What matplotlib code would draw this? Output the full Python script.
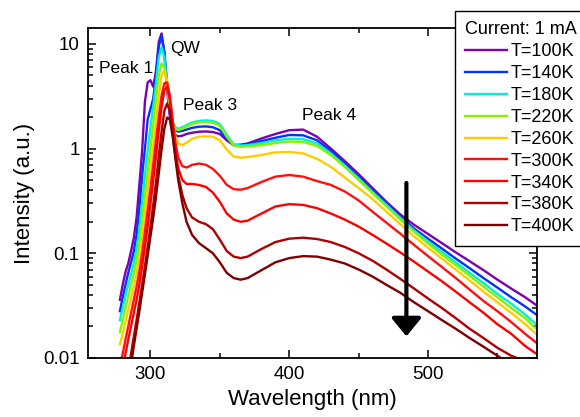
import matplotlib
matplotlib.use("Agg")
import matplotlib.pyplot as plt
from matplotlib.ticker import FixedLocator, LogLocator, NullFormatter

plt.rcParams['font.family'] = ['Liberation Sans', 'DejaVu Sans']

# wavelength grid (nm)
wl = [278, 280, 282, 284, 286, 288, 290, 292, 294, 296, 298, 300, 302, 304, 306,
      308, 310, 312, 314, 316, 318, 320, 323, 326, 330, 335, 340, 345, 350, 355,
      360, 365, 370, 380, 390, 400, 410, 420, 430, 440, 450, 460, 470, 480, 490,
      500, 510, 520, 530, 540, 550, 560, 570, 578]

# intensities (a.u.)
i100 = [0.036, 0.05, 0.066, 0.08, 0.105, 0.14, 0.22, 0.45, 0.95, 2.8, 4.3, 4.5, 3.9, 5.5, 10.5,
        12.6, 8.0, 3.6, 2.0, 1.55, 1.35, 1.31, 1.33, 1.38, 1.42, 1.45, 1.46, 1.44, 1.38, 1.2,
        1.08, 1.09, 1.12, 1.25, 1.38, 1.5, 1.52, 1.3, 1.0, 0.76, 0.57, 0.42, 0.31, 0.235, 0.187,
        0.153, 0.125, 0.102, 0.084, 0.069, 0.056, 0.046, 0.038, 0.032]
i140 = [0.028, 0.038, 0.05, 0.065, 0.082, 0.105, 0.15, 0.27, 0.55, 1.0, 1.9, 2.4, 3.0, 5.0, 9.5,
        12.0, 8.5, 4.2, 2.2, 1.7, 1.5, 1.45, 1.48, 1.52, 1.58, 1.62, 1.63, 1.6, 1.5, 1.25,
        1.08, 1.08, 1.1, 1.18, 1.27, 1.35, 1.34, 1.2, 0.95, 0.72, 0.54, 0.40, 0.30, 0.225, 0.172,
        0.138, 0.111, 0.089, 0.072, 0.058, 0.047, 0.038, 0.031, 0.026]
i180 = [0.023, 0.03, 0.039, 0.05, 0.063, 0.08, 0.11, 0.17, 0.3, 0.55, 0.95, 1.6, 2.5, 4.2, 7.5,
        9.3, 7.5, 4.2, 2.3, 1.8, 1.6, 1.55, 1.6, 1.68, 1.78, 1.84, 1.86, 1.84, 1.72, 1.35,
        1.1, 1.07, 1.08, 1.13, 1.2, 1.24, 1.23, 1.12, 0.9, 0.69, 0.52, 0.385, 0.29, 0.218, 0.165,
        0.13, 0.103, 0.082, 0.065, 0.052, 0.041, 0.033, 0.026, 0.021]
i220 = [0.0177, 0.023, 0.03, 0.039, 0.05, 0.064, 0.085, 0.12, 0.2, 0.35, 0.6, 1.0, 1.7, 3.0, 5.0,
        6.5, 6.0, 4.0, 2.4, 1.8, 1.55, 1.5, 1.55, 1.62, 1.72, 1.78, 1.79, 1.77, 1.65, 1.3,
        1.07, 1.04, 1.05, 1.08, 1.13, 1.17, 1.16, 1.06, 0.87, 0.67, 0.5, 0.375, 0.28, 0.21, 0.16,
        0.124, 0.097, 0.077, 0.061, 0.048, 0.038, 0.03, 0.024, 0.019]
i260 = [0.0135, 0.017, 0.022, 0.029, 0.037, 0.048, 0.064, 0.09, 0.14, 0.24, 0.4, 0.65, 1.05, 1.8, 3.2,
        5.0, 5.6, 4.5, 2.8, 1.8, 1.3, 1.12, 1.08, 1.14, 1.24, 1.3, 1.31, 1.3, 1.2, 0.98,
        0.84, 0.82, 0.83, 0.87, 0.92, 0.93, 0.9, 0.8, 0.67, 0.53, 0.42, 0.33, 0.25, 0.19, 0.145,
        0.113, 0.089, 0.07, 0.055, 0.043, 0.034, 0.027, 0.021, 0.017]
i300 = [0.0085, 0.011, 0.015, 0.02, 0.027, 0.036, 0.048, 0.067, 0.1, 0.16, 0.26, 0.42, 0.7, 1.2, 2.0,
        3.2, 4.2, 4.3, 3.2, 1.9, 1.15, 0.82, 0.68, 0.66, 0.7, 0.72, 0.7, 0.64, 0.55, 0.45,
        0.41, 0.405, 0.42, 0.48, 0.54, 0.56, 0.54, 0.49, 0.45, 0.39, 0.32, 0.25, 0.196, 0.154, 0.12,
        0.094, 0.074, 0.058, 0.045, 0.035, 0.028, 0.022, 0.017, 0.014]
i340 = [0.006, 0.008, 0.011, 0.015, 0.02, 0.027, 0.036, 0.05, 0.075, 0.115, 0.18, 0.3, 0.5, 0.85, 1.5,
        2.5, 3.6, 3.9, 2.9, 1.6, 0.95, 0.65, 0.5, 0.46, 0.46, 0.45, 0.43, 0.38, 0.31, 0.24,
        0.21, 0.2, 0.205, 0.24, 0.28, 0.295, 0.29, 0.27, 0.24, 0.21, 0.18, 0.15, 0.124, 0.102, 0.083,
        0.067, 0.054, 0.043, 0.034, 0.027, 0.021, 0.017, 0.013, 0.011]
i380 = [0.003, 0.004, 0.0055, 0.0075, 0.011, 0.016, 0.023, 0.034, 0.05, 0.075, 0.115, 0.18, 0.29, 0.48, 0.85,
        1.45, 2.3, 2.7, 2.3, 1.4, 0.85, 0.55, 0.36, 0.27, 0.22, 0.2, 0.19, 0.17, 0.135, 0.105,
        0.093, 0.09, 0.093, 0.11, 0.128, 0.138, 0.141, 0.137, 0.128, 0.115, 0.1, 0.085, 0.07, 0.057, 0.046,
        0.037, 0.03, 0.024, 0.019, 0.0155, 0.0125, 0.0105, 0.0093, 0.008]
i400 = [0.002, 0.0028, 0.004, 0.0058, 0.0085, 0.013, 0.019, 0.028, 0.042, 0.063, 0.095, 0.145, 0.22, 0.35, 0.58,
        0.98, 1.55, 1.98, 1.9, 1.3, 0.8, 0.5, 0.3, 0.2, 0.15, 0.125, 0.112, 0.1, 0.082, 0.065,
        0.058, 0.056, 0.058, 0.069, 0.082, 0.09, 0.094, 0.093, 0.087, 0.08, 0.07, 0.06, 0.05, 0.042, 0.034,
        0.028, 0.023, 0.019, 0.0155, 0.0128, 0.0105, 0.0087, 0.0072, 0.006]

series = [i100, i140, i180, i220, i260, i300, i340, i380, i400]
labels = ["T=100K", "T=140K", "T=180K", "T=220K", "T=260K",
          "T=300K", "T=340K", "T=380K", "T=400K"]
colors = ["#7F00B2", "#0033FF", "#00F0D8", "#88F000", "#FFCC00",
          "#FF1010", "#FF0000", "#B00000", "#800000"]

fig = plt.figure(figsize=(5.8, 4.17), dpi=100)
ax = fig.add_axes([88/580, 59/417, 449/580, 330/417])

for y, lab, c in zip(series, labels, colors):
    ax.plot(wl, y, color=c, lw=1.7, label=lab)

ax.set_yscale('log')
ax.set_xlim(255, 578.5)
ax.set_ylim(0.01, 14.2)

ax.xaxis.set_major_locator(FixedLocator([300, 400, 500]))
ax.xaxis.set_minor_locator(FixedLocator([350, 450, 550]))
ax.set_yticks([0.01, 0.1, 1, 10])
ax.set_yticklabels(["0.01", "0.1", "1", "10"])
ax.yaxis.set_minor_locator(LogLocator(base=10, subs=range(2, 10)))
ax.yaxis.set_minor_formatter(NullFormatter())

ax.tick_params(which='both', direction='in', top=True, right=True, labelsize=13.5, width=1.1)
ax.tick_params(which='major', length=6, pad=6)
ax.tick_params(which='minor', length=3.5)
for s in ax.spines.values():
    s.set_linewidth(1.3)

ax.set_xlabel("Wavelength (nm)", fontsize=16, labelpad=4)
ax.set_ylabel("Intensity (a.u.)", fontsize=16, labelpad=6)

ax.text(263.2, 5.26, "Peak 1", fontsize=12.5)
ax.text(314.1, 8.15, "QW", fontsize=12.5)
ax.text(323.7, 2.35, "Peak 3", fontsize=12.5)
ax.text(409.1, 1.86, "Peak 4", fontsize=12.5)

ax.annotate("", xy=(484.4, 0.0161), xytext=(484.4, 0.47),
            arrowprops=dict(arrowstyle="-|>,head_length=0.55,head_width=0.45",
                            lw=3, color="k", shrinkA=0, shrinkB=0, mutation_scale=20))

leg = ax.legend(loc='upper left', bbox_to_anchor=(455/580, 1 - 11/417),
                bbox_transform=fig.transFigure, borderaxespad=0,
                title="Current: 1 mA", fontsize=13.0, title_fontsize=13.0,
                fancybox=False, framealpha=1, edgecolor='k',
                handlelength=2.3, handletextpad=0.2, labelspacing=0.27,
                borderpad=0.58)
leg._legend_box.align = "left"
leg.get_frame().set_linewidth(1.0)

fig.savefig("out.png", dpi=100)
